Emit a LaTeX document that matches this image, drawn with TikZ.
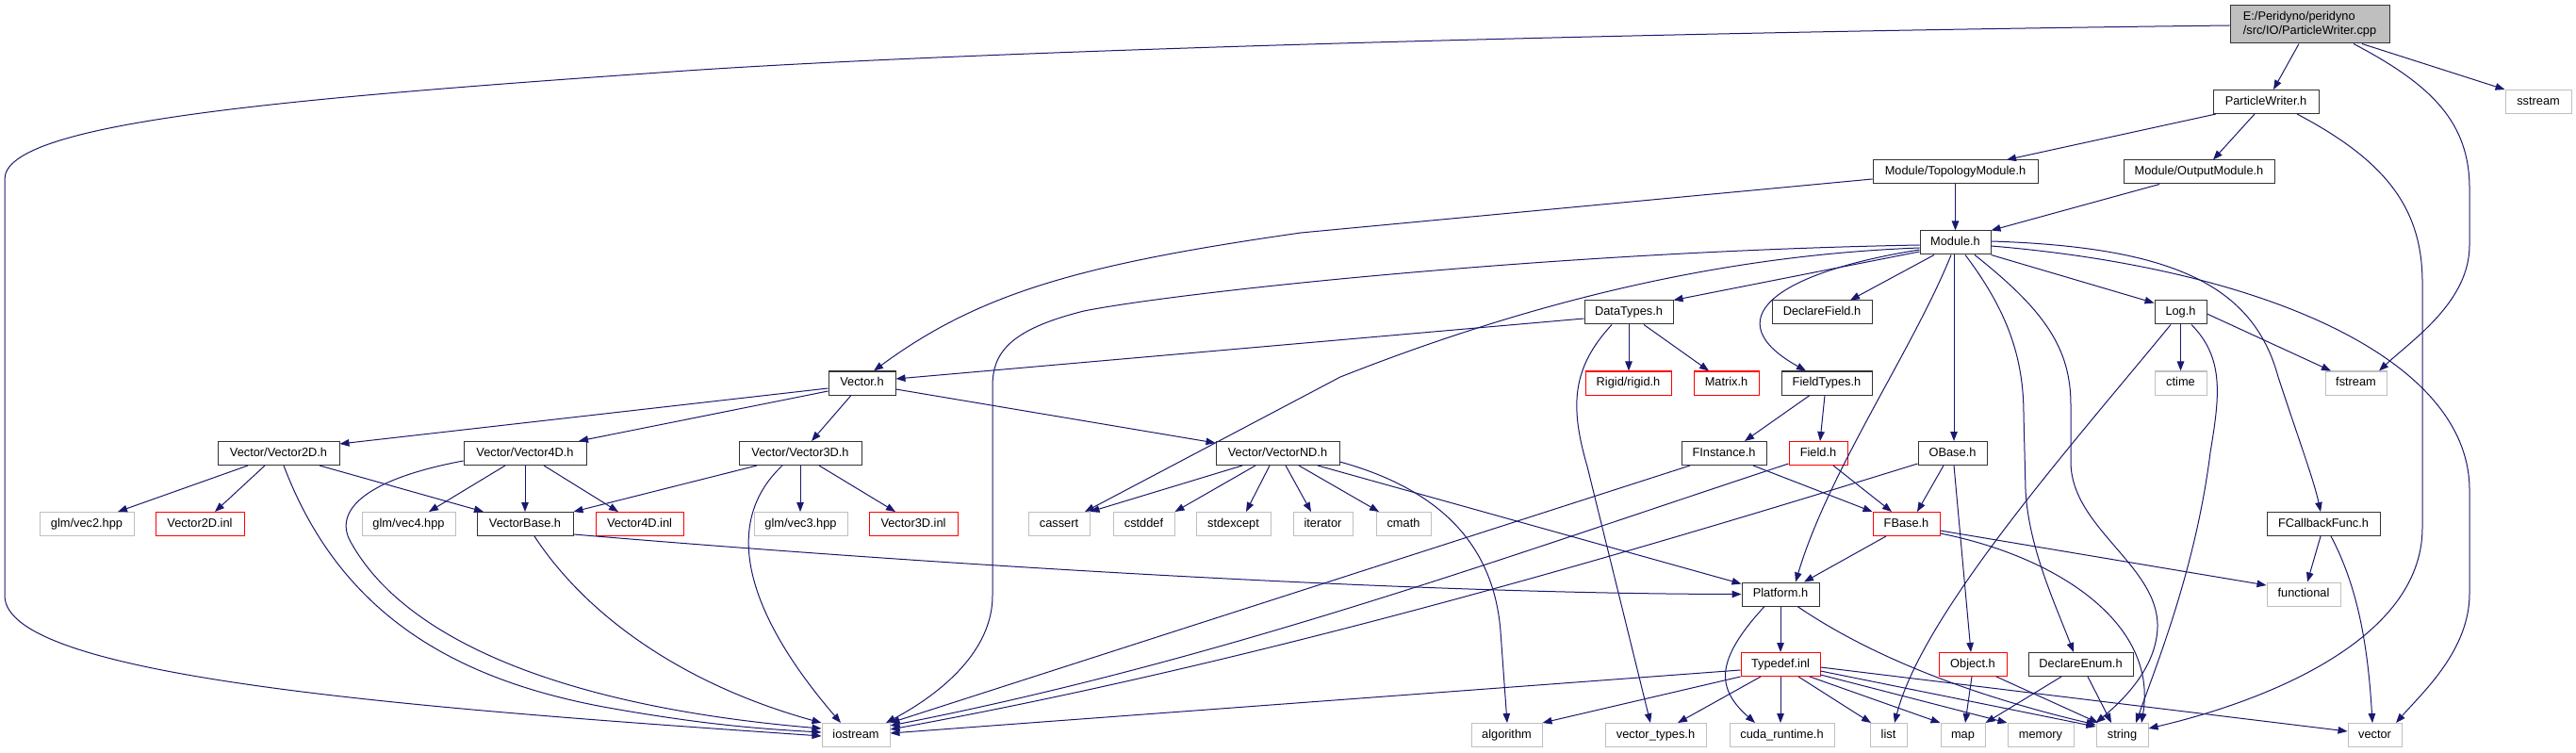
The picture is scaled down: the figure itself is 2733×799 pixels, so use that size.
\documentclass[tikz,border=0pt]{standalone}
\usepackage{fontspec}
\setmainfont{Liberation Sans}
\usetikzlibrary{arrows.meta}
\definecolor{mb}{HTML}{191970}
\definecolor{gseventyfive}{HTML}{BFBFBF}
\begin{document}
\begin{tikzpicture}[x=1pt,y=-1pt,
 boxzero/.style={rectangle, inner sep=0pt, minimum height=25pt, line width=1pt, font=\fontsize{12.8pt}{15pt}\selectfont, text=black, fill=white},
 box/.style={boxzero, text height=9.2pt, text depth=2.7pt},
 nb/.style={box, draw=black!80},
 ng/.style={box, draw=gseventyfive},
 nr/.style={box, draw=red},
 lnk/.style={draw=mb, line width=1pt, -{Triangle[length=10pt,width=7.5pt]}}
]
\useasboundingbox[fill=white] (0,0) rectangle (2733,799);

% ---------------- nodes ----------------
\node[boxzero, draw=black!80, fill=gseventyfive, minimum width=169pt, minimum height=40pt, align=left] (root) at (2450.5,26) {E:/Peridyno/peridyno\\/src/IO/ParticleWriter.cpp};
\node[nb, minimum width=112pt] (pw) at (2404,108) {ParticleWriter.h};
\node[ng, minimum width=70pt] (sstream) at (2693,108) {sstream};
\node[nb, minimum width=175pt] (topo) at (2074.5,182.5) {Module/TopologyModule.h};
\node[nb, minimum width=160pt] (outm) at (2333,182.5) {Module/OutputModule.h};
\node[nb, minimum width=75pt] (module) at (2074.5,257.5) {Module.h};
\node[nb, minimum width=94pt] (datatypes) at (1728,331.5) {DataTypes.h};
\node[nb, minimum width=106pt] (declfield) at (1933,331.5) {DeclareField.h};
\node[nb, minimum width=55pt] (log) at (2313.5,331.5) {Log.h};
\node[nb, minimum width=71pt] (vectorh) at (914.5,406.5) {Vector.h};
\node[nr, minimum width=91pt] (rigid) at (1727.5,406.5) {Rigid/rigid.h};
\node[nr, minimum width=69pt] (matrix) at (1831.5,406.5) {Matrix.h};
\node[nb, minimum width=96pt] (fieldtypes) at (1938,406.5) {FieldTypes.h};
\node[ng, minimum width=55pt] (ctime) at (2313.5,406.5) {ctime};
\node[ng, minimum width=65pt] (fstream) at (2499.5,406.5) {fstream};
\node[nb, minimum width=129pt] (v2d) at (295.5,481) {Vector/Vector2D.h};
\node[nb, minimum width=130pt] (v4d) at (557,481) {Vector/Vector4D.h};
\node[nb, minimum width=130pt] (v3d) at (849,481) {Vector/Vector3D.h};
\node[nb, minimum width=131pt] (vnd) at (1355.5,481) {Vector/VectorND.h};
\node[nb, minimum width=90pt] (finst) at (1829,481) {FInstance.h};
\node[nr, minimum width=62pt] (field) at (1929,481) {Field.h};
\node[nb, minimum width=73pt] (obase) at (2071.5,481) {OBase.h};
\node[ng, minimum width=100pt] (vec2) at (92,556) {glm/vec2.hpp};
\node[nr, minimum width=94pt] (v2inl) at (212,556) {Vector2D.inl};
\node[ng, minimum width=99pt] (vec4) at (433.5,556) {glm/vec4.hpp};
\node[nb, minimum width=102pt] (vbase) at (557,556) {VectorBase.h};
\node[nr, minimum width=93pt] (v4inl) at (678.5,556) {Vector4D.inl};
\node[ng, minimum width=99pt] (vec3) at (849.5,556) {glm/vec3.hpp};
\node[nr, minimum width=94pt] (v3inl) at (969,556) {Vector3D.inl};
\node[ng, minimum width=65pt] (cassert) at (1123.5,556) {cassert};
\node[ng, minimum width=65pt] (cstddef) at (1213.5,556) {cstddef};
\node[ng, minimum width=79pt] (stdexcept) at (1308.5,556) {stdexcept};
\node[ng, minimum width=63pt] (iterator) at (1403.5,556) {iterator};
\node[ng, minimum width=58pt] (cmath) at (1489,556) {cmath};
\node[nr, minimum width=71pt] (fbase) at (2022.5,556) {FBase.h};
\node[nb, minimum width=120pt] (fcb) at (2465,556) {FCallbackFunc.h};
\node[nb, minimum width=82pt] (platform) at (1889,630.5) {Platform.h};
\node[ng, minimum width=78pt] (functional) at (2444,630.5) {functional};
\node[nr, minimum width=84pt] (typedef) at (1889,705) {Typedef.inl};
\node[nr, minimum width=72pt] (object) at (2093,705) {Object.h};
\node[nb, minimum width=111pt] (declenum) at (2207.5,705) {DeclareEnum.h};
\node[ng, minimum width=72pt] (iostream) at (908,780) {iostream};
\node[ng, minimum width=75pt] (algorithm) at (1598.5,780) {algorithm};
\node[ng, minimum width=107pt] (vtypes) at (1756.5,780) {vector\_types.h};
\node[ng, minimum width=111pt] (cuda) at (1890.5,780) {cuda\_runtime.h};
\node[ng, minimum width=39pt] (list) at (2003.5,780) {list};
\node[ng, minimum width=47pt] (map) at (2082.5,780) {map};
\node[ng, minimum width=70pt] (memory) at (2165,780) {memory};
\node[ng, minimum width=55pt] (string) at (2251.5,780) {string};
\node[ng, minimum width=57pt] (vector) at (2519.5,780) {vector};

% ---------------- edges ----------------
% root
\draw[lnk] (root.west |- 0,27) .. controls (1700,35) and (1000,55) .. (700,77) .. controls (300,105) and (5,130) .. (5,190) -- (5,632) .. controls (5,720) and (450,752) .. (iostream.west |- 0,781);
\draw[lnk] (root.south -| 2439,0) -- (pw.north -| 2412,0);
\draw[lnk] (root.south -| 2497,0) .. controls (2580,90) and (2620,130) .. (2620,200) -- (2620,260) .. controls (2620,320) and (2560,360) .. (fstream.north -| 2524,0);
\draw[lnk] (root.south -| 2506,0) -- (sstream.north west);
% ParticleWriter.h
\draw[lnk] (pw.south -| 2351,0) -- (topo.north -| 2129,0);
\draw[lnk] (pw.south -| 2392,0) -- (outm.north -| 2348,0);
\draw[lnk] (pw.south -| 2437,0) .. controls (2530,170) and (2570,220) .. (2570,300) -- (2570,560) .. controls (2570,680) and (2400,745) .. (string.east |- 0,773);
% TopologyModule / OutputModule
\draw[lnk] (topo.south) -- (module.north);
\draw[lnk] (topo.west |- 0,190) -- (1380,247) .. controls (1150,280) and (1040,310) .. (vectorh.north -| 927,0);
\draw[lnk] (outm.south -| 2291,0) -- (module.north east);
% Module.h
\draw[lnk] (module.west |- 0,267) -- (datatypes.north east);
\draw[lnk] (module.south -| 2052,0) -- (declfield.north -| 1963,0);
\draw[lnk] (module.south east) -- ([yshift=-3pt]log.north west);
\draw[lnk] (module.west |- 0,265) .. controls (1880,290) and (1820,340) .. (fieldtypes.north -| 1916,0);
\draw[lnk] (module.west |- 0,260) .. controls (1650,267) and (1250,310) .. (1150,330) .. controls (1070,350) and (1053,375) .. (1053,410) -- (1053,632) .. controls (1053,690) and (1000,735) .. (iostream.north -| 940,0);
\draw[lnk] (module.west |- 0,263) .. controls (1850,270) and (1650,310) .. (1422,400) -- (cassert.north -| 1151,0);
\draw[lnk] (module.south -| 2070,0) .. controls (2030,370) and (1940,500) .. (platform.north -| 1905,0);
\draw[lnk] (module.south -| 2073,0) -- (obase.north -| 2073,0);
\draw[lnk] (module.south -| 2085,0) .. controls (2130,330) and (2147,380) .. (2147,440) -- (2149,520) .. controls (2152,580) and (2180,640) .. (declenum.north -| 2200,0);
\draw[lnk] (module.south -| 2095,0) .. controls (2170,330) and (2197,370) .. (2197,430) -- (2197,490) .. controls (2197,560) and (2290,600) .. (2289,665) .. controls (2288,710) and (2250,745) .. (string.north west);
\draw[lnk] (module.east |- 0,256) .. controls (2300,262) and (2390,300) .. (2417,400) .. controls (2440,470) and (2455,510) .. (fcb.north -| 2462,0);
\draw[lnk] (module.east |- 0,261) .. controls (2400,285) and (2620,380) .. (2620,520) -- (2620,630) .. controls (2620,690) and (2570,735) .. (vector.north -| 2542,0);
% Vector.h
\draw[lnk] (vectorh.west |- 0,412) -- (v2d.east |- 0,471);
\draw[lnk] (vectorh.west |- 0,415) -- (v4d.north -| 614,0);
\draw[lnk] (vectorh.south -| 903,0) -- (v3d.north -| 861,0);
\draw[lnk] (vectorh.east |- 0,413) -- ([yshift=-2pt]vnd.north west);
% Vector2D.h
\draw[lnk] (v2d.south -| 263,0) -- (vec2.north -| 125,0);
\draw[lnk] (v2d.south -| 281,0) -- (v2inl.north -| 228,0);
\draw[lnk] (v2d.south -| 339,0) -- (vbase.north -| 513,0);
\draw[lnk] (v2d.south -| 301,0) .. controls (360,650) and (480,720) .. (640,750) .. controls (740,768) and (800,773) .. (iostream.west |- 0,777);
% Vector4D.h
\draw[lnk] (v4d.south -| 536,0) -- (vec4.north -| 455,0);
\draw[lnk] (v4d.south -| 557,0) -- (vbase.north -| 557,0);
\draw[lnk] (v4d.south -| 577,0) -- (v4inl.north -| 656,0);
\draw[lnk] (v4d.west |- 0,489) .. controls (380,510) and (355,545) .. (372,575) .. controls (430,680) and (600,750) .. (iostream.west |- 0,773);
% VectorBase.h
\draw[lnk] (vbase.east |- 0,567) .. controls (1000,600) and (1500,630) .. (platform.west);
\draw[lnk] (vbase.south -| 567,0) .. controls (620,650) and (720,725) .. (iostream.north west);
% Vector3D.h
\draw[lnk] (v3d.south -| 803,0) -- (vbase.north east);
\draw[lnk] (v3d.south -| 849,0) -- (vec3.north -| 849,0);
\draw[lnk] (v3d.south -| 869,0) -- (v3inl.north -| 950,0);
\draw[lnk] (v3d.south -| 830,0) .. controls (760,560) and (800,660) .. (iostream.north -| 892,0);
% VectorND.h
\draw[lnk] (vnd.south -| 1318,0) -- (cassert.north east);
\draw[lnk] (vnd.south -| 1332,0) -- (cstddef.north east);
\draw[lnk] (vnd.south -| 1347,0) -- (stdexcept.north -| 1322,0);
\draw[lnk] (vnd.south -| 1364,0) -- (iterator.north -| 1391,0);
\draw[lnk] (vnd.south -| 1378,0) -- (cmath.north -| 1463,0);
\draw[lnk] (vnd.south -| 1398,0) -- ([yshift=-2pt]platform.north west);
\draw[lnk] (vnd.east |- 0,490) .. controls (1530,520) and (1585,580) .. (1592,670) -- (algorithm.north -| 1599,0);
% DataTypes.h
\draw[lnk] (datatypes.west |- 0,338) -- (vectorh.east |- 0,402);
\draw[lnk] (datatypes.south -| 1728,0) -- (rigid.north -| 1728,0);
\draw[lnk] (datatypes.south -| 1744,0) -- (matrix.north -| 1813,0);
\draw[lnk] (datatypes.south -| 1710,0) .. controls (1668,390) and (1665,430) .. (1684,495) -- (vtypes.north -| 1751,0);
% FieldTypes.h
\draw[lnk] (fieldtypes.south -| 1920,0) -- (finst.north -| 1851,0);
\draw[lnk] (fieldtypes.south -| 1936,0) -- (field.north -| 1931,0);
% FInstance.h, Field.h, OBase.h
\draw[lnk] (finst.south -| 1860,0) -- (fbase.north west);
\draw[lnk] (finst.south -| 1793,0) -- (iostream.north east);
\draw[lnk] (field.south -| 1945,0) -- (fbase.north -| 2007,0);
\draw[lnk] (field.west |- 0,492) .. controls (1600,590) and (1300,700) .. (iostream.east |- 0,770);
\draw[lnk] (obase.south -| 2062,0) -- (fbase.north -| 2034,0);
\draw[lnk] (obase.south -| 2073,0) -- (object.north -| 2091,0);
\draw[lnk] (obase.west |- 0,492) .. controls (1750,580) and (1350,700) .. (iostream.east |- 0,774);
% FBase.h
\draw[lnk] (fbase.south -| 2001,0) -- (platform.north -| 1914,0);
\draw[lnk] (fbase.east |- 0,563) -- (functional.west |- 0,621);
\draw[lnk] (fbase.east |- 0,566) .. controls (2180,590) and (2290,660) .. (string.north -| 2272,0);
% Platform.h
\draw[lnk] (platform.south) -- (typedef.north);
\draw[lnk] (platform.south -| 1872,0) .. controls (1820,700) and (1820,730) .. (cuda.north -| 1862,0);
\draw[lnk] (platform.south -| 1907,0) .. controls (1990,700) and (2100,740) .. ([yshift=-2pt]string.north west);
% Typedef.inl
\draw[lnk] (typedef.west |- 0,711) -- (iostream.east |- 0,778);
\draw[lnk] (typedef.south west) -- (algorithm.north east);
\draw[lnk] (typedef.south -| 1868,0) -- (vtypes.north -| 1780,0);
\draw[lnk] (typedef.south -| 1889,0) -- (cuda.north -| 1889,0);
\draw[lnk] (typedef.south -| 1908,0) -- (list.north -| 1985,0);
\draw[lnk] (typedef.south -| 1920,0) -- (map.north west);
\draw[lnk] (typedef.east |- 0,716) -- (memory.north west);
\draw[lnk] (typedef.east |- 0,712) -- ([yshift=-4pt]string.north west);
\draw[lnk] (typedef.east |- 0,708) -- (vector.west |- 0,776);
% Log.h
\draw[lnk] (log.south) -- (ctime.north);
\draw[lnk] (log.east |- 0,333) -- (fstream.north -| 2473,0);
\draw[lnk] (log.south -| 2303,0) .. controls (2200,470) and (2040,650) .. (list.north -| 2010,0);
\draw[lnk] (log.south -| 2325,0) .. controls (2360,380) and (2355,420) .. (2345,480) .. controls (2330,600) and (2290,700) .. (string.north -| 2266,0);
% Object.h, DeclareEnum.h
\draw[lnk] (object.south -| 2092,0) -- (map.north -| 2085,0);
\draw[lnk] (object.south -| 2118,0) -- (string.north -| 2226,0);
\draw[lnk] (declenum.south -| 2187,0) -- (map.north east);
\draw[lnk] (declenum.south -| 2215,0) -- (string.north -| 2240,0);
% FCallbackFunc.h
\draw[lnk] (fcb.south -| 2462,0) -- (functional.north -| 2448,0);
\draw[lnk] (fcb.south -| 2473,0) .. controls (2500,620) and (2512,680) .. (vector.north -| 2517,0);
\end{tikzpicture}
\end{document}
